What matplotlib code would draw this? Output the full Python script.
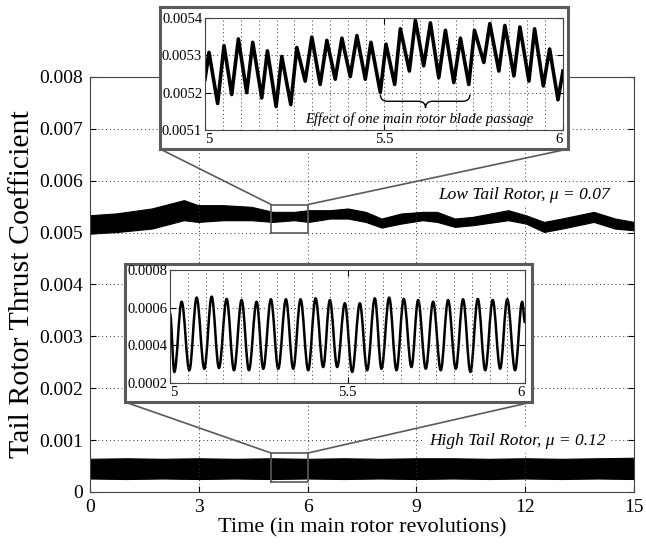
import numpy as np
import matplotlib
matplotlib.use('Agg')
import matplotlib.pyplot as plt
from matplotlib.patches import ConnectionPatch, PathPatch
from matplotlib.path import Path

plt.rcParams['font.family'] = ['Liberation Serif', 'DejaVu Serif']

# main plot: envelope of the two thrust signals
low_x = [0, 0.72, 1.70, 2.59, 2.98, 3.67, 4.45, 5.04, 5.63, 6.03, 6.62, 7.11, 7.60,
         8.04, 8.58, 9.17, 9.57, 10.06, 10.55, 11.53, 12.02, 12.52, 13.01, 13.89,
         14.48, 15.0]
low_hi = [0.005335, 0.00537, 0.005465, 0.005626, 0.005529, 0.005529, 0.005497, 0.0054,
          0.0054, 0.005432, 0.005432, 0.005465, 0.0054, 0.005271, 0.005368, 0.0054,
          0.0054, 0.005271, 0.005303, 0.005432, 0.005335, 0.005206, 0.005271, 0.0054,
          0.005271, 0.005206]
low_lo = [0.00498, 0.00501, 0.005077, 0.005239, 0.005206, 0.005239, 0.005239, 0.005206,
          0.005239, 0.005206, 0.005271, 0.005271, 0.005206, 0.005097, 0.005174, 0.005239,
          0.005206, 0.00511, 0.005142, 0.005239, 0.005174, 0.005013, 0.005077, 0.005206,
          0.005077, 0.005045]

high_x = [0, 1, 2, 3, 4, 5, 6, 7, 8, 9, 10, 11, 12, 13, 14, 15]
high_hi = [0.00064, 0.00065, 0.00064, 0.00065, 0.00064, 0.00065, 0.00064, 0.00065,
           0.00064, 0.00065, 0.00065, 0.00064, 0.00065, 0.00064, 0.00065, 0.00066]
high_lo = [0.00026, 0.00025, 0.00026, 0.00025, 0.00026, 0.00025, 0.00026, 0.00025,
           0.00026, 0.00025, 0.00026, 0.00025, 0.00026, 0.00025, 0.00026, 0.00025]

# zoomed revolution 5..6, peaks and troughs
low_zoom_x = [5.0, 5.0112, 5.0354, 5.0532, 5.0746, 5.0933, 5.1166, 5.1334, 5.1586, 5.1744,
              5.1987, 5.2146, 5.2397, 5.2565, 5.2799, 5.2985, 5.3218, 5.3405, 5.3638,
              5.3825, 5.4058, 5.4244, 5.4478, 5.4636, 5.4897, 5.5056, 5.5299, 5.5457,
              5.5709, 5.5877, 5.611, 5.6297, 5.653, 5.6716, 5.695, 5.7136, 5.7369,
              5.7528, 5.7789, 5.7957, 5.8209, 5.8377, 5.8629, 5.8797, 5.9049, 5.9207,
              5.945, 5.9627, 5.986, 6.0]
low_zoom_y = [0.005236, 0.005308, 0.005171, 0.005326, 0.005195, 0.005344, 0.0052, 0.005335,
              0.005186, 0.005312, 0.005163, 0.005297, 0.005168, 0.005321, 0.005231,
              0.005349, 0.005222, 0.00534, 0.005236, 0.005346, 0.005243, 0.005353,
              0.005236, 0.005335, 0.005201, 0.00533, 0.005222, 0.005371, 0.005258,
              0.005394, 0.005272, 0.005387, 0.00524, 0.005367, 0.005227, 0.005346,
              0.005222, 0.005367, 0.005281, 0.005385, 0.005258, 0.00538, 0.005245,
              0.005376, 0.005231, 0.005371, 0.005218, 0.005317, 0.005181, 0.005258]

high_zoom_x = [5.0, 5.0122, 5.0328, 5.0544, 5.075, 5.0966, 5.1173, 5.1379, 5.1595, 5.1801,
               5.2017, 5.2223, 5.2439, 5.2627, 5.2842, 5.3049, 5.3265, 5.3471, 5.3677,
               5.3893, 5.41, 5.4315, 5.4503, 5.4709, 5.4925, 5.5131, 5.5347, 5.5553,
               5.5769, 5.5957, 5.6173, 5.6379, 5.6585, 5.6801, 5.6989, 5.7205, 5.7411,
               5.7627, 5.7833, 5.8049, 5.8255, 5.8462, 5.867, 5.888, 5.909, 5.93, 5.95,
               5.972, 5.992, 6.0]
high_zoom_y = [0.000569, 0.000259, 0.000631, 0.000268, 0.000653, 0.000276, 0.000658,
               0.00028, 0.000646, 0.000268, 0.00064, 0.000268, 0.000631, 0.000276,
               0.000644, 0.000276, 0.000644, 0.000276, 0.000644, 0.000268, 0.000649,
               0.000285, 0.00064, 0.000285, 0.000623, 0.000259, 0.000623, 0.000268,
               0.000649, 0.000276, 0.000653, 0.000268, 0.000646, 0.000285, 0.00064,
               0.000276, 0.000631, 0.000268, 0.00064, 0.000276, 0.000644, 0.000259,
               0.000646, 0.000268, 0.00064, 0.000276, 0.000644, 0.000268, 0.00063, 0.00052]

x_ticks = [0, 3, 6, 9, 12, 15]
y_ticks = [0, 0.001, 0.002, 0.003, 0.004, 0.005, 0.006, 0.007, 0.008]
y_labels = ['0', '0.001', '0.002', '0.003', '0.004', '0.005', '0.006', '0.007', '0.008']
low_zoom_yticks = [0.0051, 0.0052, 0.0053, 0.0054]
low_zoom_ylabels = ['0.0051', '0.0052', '0.0053', '0.0054']
high_zoom_yticks = [0.0002, 0.0004, 0.0006, 0.0008]
high_zoom_ylabels = ['0.0002', '0.0004', '0.0006', '0.0008']
zoom_xticks = [5, 5.5, 6]
zoom_xlabels = ['5', '5.5', '6']

grid_kw = dict(color='#333333', linestyle=(0, (1, 3)), linewidth=0.7)
frame_col = '#5a5a5a'

fig = plt.figure(figsize=(6.46, 5.44), dpi=100)
ax = fig.add_axes([0.1393, 0.0956, 0.8421, 0.7629])
ax.fill_between(low_x, low_lo, low_hi, color='black', linewidth=0.8)
ax.fill_between(high_x, high_lo, high_hi, color='black', linewidth=0.8)
ax.set_xlim(0, 15)
ax.set_ylim(0, 0.008)
ax.set_xticks(x_ticks)
ax.set_xticklabels([str(t) for t in x_ticks])
ax.set_yticks(y_ticks)
ax.set_yticklabels(y_labels)
ax.tick_params(direction='in', top=True, right=True, length=4, labelsize=14, pad=5)
ax.grid(True, **grid_kw)
for s in ax.spines.values():
    s.set_color('#444444')
ax.set_xlabel('Time (in main rotor revolutions)', fontsize=16, labelpad=2)
ax.set_ylabel('Tail Rotor Thrust Coefficient', fontsize=21.5, labelpad=3)

ax.text(11.98, 0.005723, 'Low Tail Rotor, μ = 0.07', fontsize=12.5, style='italic',
        ha='center', va='center', bbox=dict(facecolor='white', edgecolor='none', pad=3))
ax.text(11.8, 0.00098, 'High Tail Rotor, μ = 0.12', fontsize=12.5, style='italic',
        ha='center', va='center', bbox=dict(facecolor='white', edgecolor='none', pad=3))

# zoom boxes in the main axes
rect_top = (5, 0.005, 6, 0.00554)
rect_bot = (5, 0.0002, 6, 0.00075)
for r in (rect_top, rect_bot):
    ax.plot([r[0], r[2], r[2], r[0], r[0]], [r[1], r[1], r[3], r[3], r[1]],
            color=frame_col, linewidth=1.2)


def make_inset(outer, inner, yl, yt, ytl):
    fr = fig.add_axes(outer, zorder=2)
    fr.set_xticks([])
    fr.set_yticks([])
    fr.set_xlim(0, 1)
    fr.set_ylim(0, 1)
    for s in fr.spines.values():
        s.set_color(frame_col)
        s.set_linewidth(2.2)
    ins = fig.add_axes(inner, zorder=3)
    ins.set_xlim(5, 6)
    ins.set_ylim(*yl)
    ins.set_xticks(zoom_xticks)
    ins.set_xticklabels(zoom_xlabels)
    ins.set_xticks(np.arange(5.05, 6.0, 0.05), minor=True)
    ins.set_yticks(yt)
    ins.set_yticklabels(ytl)
    ins.tick_params(which='both', direction='in', top=True, right=True, labelsize=10.5, pad=2)
    ins.tick_params(which='minor', length=0)
    ins.tick_params(which='major', length=4)
    ins.grid(True, which='both', axis='x', **grid_kw)
    ins.grid(True, which='major', axis='y', **grid_kw)
    for s in ins.spines.values():
        s.set_color('#444444')
    labs = ins.get_xticklabels()
    labs[0].set_ha('left')
    labs[-1].set_ha('right')
    return fr, ins


fr1, in1 = make_inset([0.2477, 0.7261, 0.6316, 0.261], [0.3173, 0.761, 0.5542, 0.2059],
                      (0.0051, 0.0054), low_zoom_yticks, low_zoom_ylabels)
in1.plot(low_zoom_x, low_zoom_y, color='black', linewidth=2.6, solid_joinstyle='round')

# brace below the blade passage
bx0, bx1, bxm = 5.49, 5.74, 5.616
by_end, by_mid, by_tip = 0.005195, 0.005177, 0.005159
brace = Path([(bx0, by_end), (bx0, by_mid), (bx0 + 0.02, by_mid), (bxm - 0.02, by_mid),
              (bxm, by_mid), (bxm, by_tip), (bxm, by_mid), (bxm + 0.02, by_mid),
              (bx1 - 0.02, by_mid), (bx1, by_mid), (bx1, by_end)],
             [Path.MOVETO, Path.CURVE3, Path.CURVE3, Path.LINETO, Path.CURVE3, Path.CURVE3,
              Path.CURVE3, Path.CURVE3, Path.LINETO, Path.CURVE3, Path.CURVE3])
in1.add_patch(PathPatch(brace, facecolor='none', edgecolor='black', linewidth=1.0))
in1.text(5.60, 0.00513, 'Effect of one main rotor blade passage', fontsize=10.5,
         style='italic', ha='center', va='center')

fr2, in2 = make_inset([0.1935, 0.261, 0.63, 0.2537], [0.2632, 0.296, 0.5495, 0.2077],
                      (0.0002, 0.0008), high_zoom_yticks, high_zoom_ylabels)
# smooth curve through the read extrema
verts = [(high_zoom_x[0], high_zoom_y[0])]
codes = [Path.MOVETO]
for i in range(1, len(high_zoom_x)):
    xa, ya = high_zoom_x[i - 1], high_zoom_y[i - 1]
    xb, yb = high_zoom_x[i], high_zoom_y[i]
    d = 0.36 * (xb - xa)
    verts += [(xa + d, ya), (xb - d, yb), (xb, yb)]
    codes += [Path.CURVE4, Path.CURVE4, Path.CURVE4]
in2.add_patch(PathPatch(Path(verts, codes), facecolor='none', edgecolor='black', linewidth=1.8))

# connector lines from the zoom boxes to the insets
for fr, r in ((fr1, rect_top), (fr2, rect_bot)):
    for fx, dx in ((0, r[0]), (1, r[2])):
        con = ConnectionPatch(xyA=(fx, 0), coordsA=fr.transAxes, xyB=(dx, r[3]),
                              coordsB=ax.transData, color=frame_col, linewidth=1.2)
        fig.add_artist(con)

fig.savefig('out.png', dpi=100)
